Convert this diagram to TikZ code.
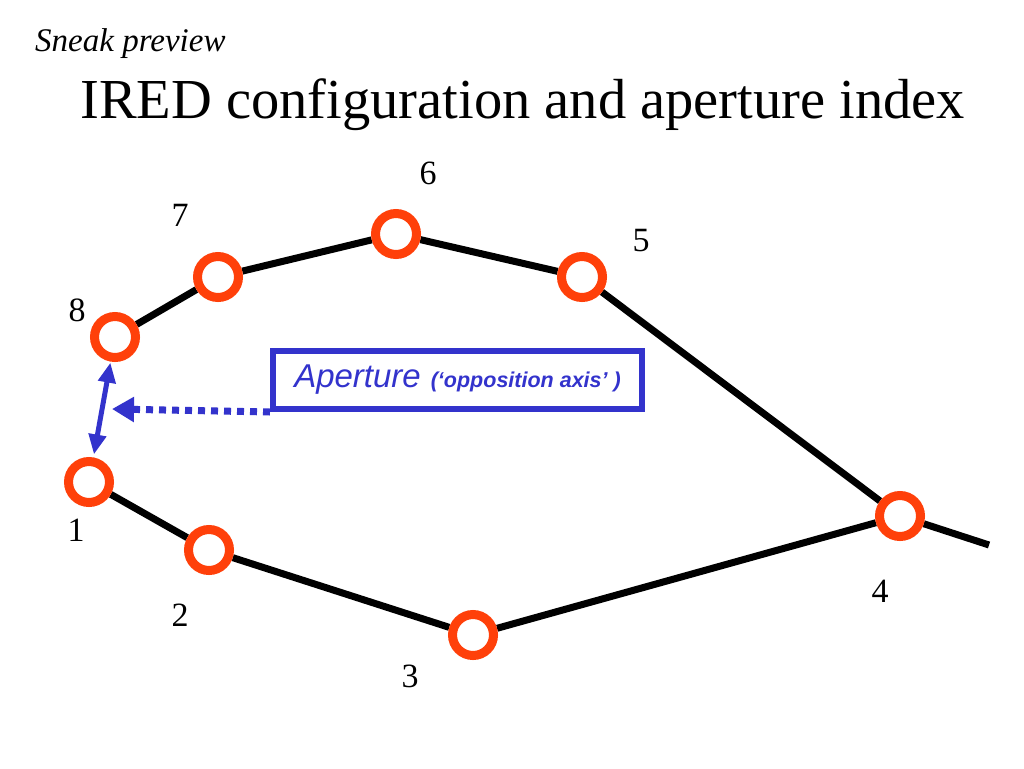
\documentclass[tikz,border=0pt]{standalone}
\usepackage{fontspec}
\setmainfont{Liberation Serif}
\newfontfamily\helv{Liberation Sans}
\usetikzlibrary{arrows.meta,backgrounds}
\definecolor{iredred}{RGB}{255,64,10}
\definecolor{apblue}{RGB}{51,51,204}
\tikzset{
  ired/.style={circle,draw=iredred,fill=white,line width=9pt,minimum size=41pt,inner sep=0pt},
  num/.style={inner sep=0pt,font=\fontsize{34}{34}\selectfont},
  wire/.style={line width=7pt,black}
}
\begin{document}
\begin{tikzpicture}[x=1pt,y=-1pt]
    \useasboundingbox (0,0) rectangle (1024,768);
    \node[anchor=base west,inner sep=0pt,font=\fontsize{33}{33}\selectfont\itshape] (sneak) at (35,52) {Sneak preview};
    \node[anchor=base west,inner sep=0pt,font=\fontsize{56.5}{56.5}\selectfont] (title) at (80,118) {IRED configuration and aperture index};
    \node[ired] (n1) at (89,482) {};
    \node[ired] (n2) at (209,550) {};
    \node[ired] (n3) at (473,635) {};
    \node[ired] (n4) at (900,516) {};
    \node[ired] (n5) at (582,277) {};
    \node[ired] (n6) at (396,234) {};
    \node[ired] (n7) at (218,277) {};
    \node[ired] (n8) at (115,337) {};
    \coordinate (tail) at (989,545);
    \begin{scope}[on background layer]
    \draw[wire](n1)--(n2)--(n3)--(n4)--(n5)--(n6)--(n7)--(n8);
    \draw[wire](n4)--(tail);
    \end{scope}
    \node[num] (l1) at (76,530) {1};
    \node[num] (l2) at (180,615) {2};
    \node[num] (l3) at (410,676) {3};
    \node[num] (l4) at (880,591) {4};
    \node[num] (l5) at (641,241) {5};
    \node[num] (l6) at (428,173) {6};
    \node[num] (l7) at (180,215) {7};
    \node[num] (l8) at (77,310) {8};
    \node[draw=apblue,line width=6pt,minimum width=369pt,minimum height=58pt,inner sep=0pt,text=apblue] (box) at (457.5,380)
        {\helv{\fontsize{33}{33}\selectfont\itshape Aperture}\hspace{10pt}{\fontsize{21.5}{21.5}\selectfont\bfseries\itshape (‘opposition axis’ )}};
    \coordinate (aptip) at (112,409);
    \draw[apblue,line width=7pt,dash pattern=on 7pt off 6pt,-{Triangle[length=22pt,width=24pt]}](box.south west)--(aptip);
    \draw[apblue,line width=5pt,{Triangle[length=20pt,width=17pt]}-{Triangle[length=20pt,width=17pt]},shorten <=1pt,shorten >=3pt](n8)--(n1);
\end{tikzpicture}
\end{document}
